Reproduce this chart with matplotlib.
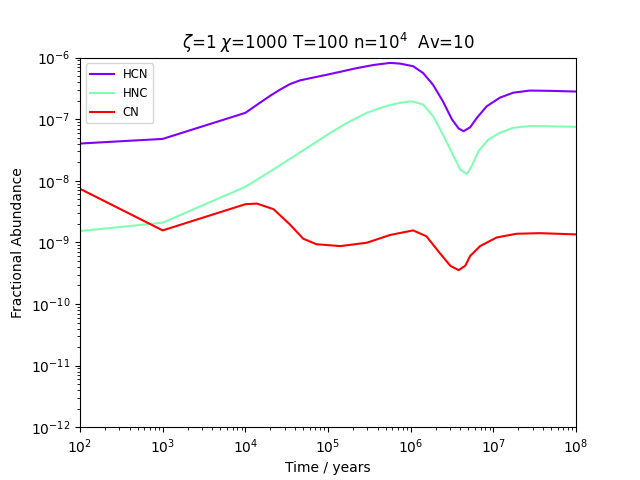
import numpy as np
import matplotlib
matplotlib.use('Agg')
from matplotlib import pyplot as plt

# log10(time / years) and log10(abundance)
hcn_logt = [2, 3, 4, 4.18, 4.3, 4.42, 4.54, 4.66, 4.8, 4.98, 5.15, 5.35, 5.55, 5.75,
            5.87, 6.03, 6.15, 6.27, 6.39, 6.5, 6.58, 6.64, 6.72, 6.8, 6.92, 7.08,
            7.24, 7.44, 7.7, 8.0]
hcn_logy = [-7.395, -7.32, -6.897, -6.73, -6.62, -6.52, -6.43, -6.37, -6.33, -6.28,
            -6.23, -6.17, -6.12, -6.086, -6.097, -6.14, -6.25, -6.44, -6.71, -7.005,
            -7.15, -7.195, -7.13, -6.98, -6.79, -6.65, -6.57, -6.535, -6.54, -6.551]

hnc_logt = [2, 3, 4, 4.3, 4.66, 4.88, 5.06, 5.23, 5.47, 5.63, 5.75, 5.87, 6.01, 6.15,
            6.27, 6.39, 6.52, 6.6, 6.68, 6.74, 6.82, 6.94, 7.08, 7.24, 7.44, 7.7, 8.0]
hnc_logy = [-8.816, -8.68, -8.097, -7.85, -7.54, -7.35, -7.195, -7.06, -6.897, -6.82,
            -6.77, -6.735, -6.71, -6.76, -6.95, -7.25, -7.60, -7.82, -7.89, -7.76,
            -7.52, -7.33, -7.22, -7.14, -7.11, -7.115, -7.124]

cn_logt = [2, 3, 4, 4.14, 4.34, 4.54, 4.7, 4.86, 5.15, 5.47, 5.75, 6.03, 6.19, 6.35,
           6.48, 6.58, 6.66, 6.72, 6.84, 7.04, 7.28, 7.56, 8.0]
cn_logy = [-8.13, -8.805, -8.38, -8.37, -8.46, -8.71, -8.94, -9.03, -9.06, -9.005,
           -8.88, -8.805, -8.90, -9.17, -9.38, -9.45, -9.38, -9.22, -9.06, -8.92,
           -8.86, -8.85, -8.87]

species = ['HCN', 'HNC', 'CN']
logts = [hcn_logt, hnc_logt, cn_logt]
logys = [hcn_logy, hnc_logy, cn_logy]

colors = plt.cm.rainbow(np.linspace(0, 1, len(species)))

fig, ax = plt.subplots(figsize=(6.4, 4.8), dpi=100)
for name, lt, ly, c in zip(species, logts, logys, colors):
    ax.plot(10**np.array(lt), 10**np.array(ly), color=c, label=name)

ax.set_xscale('log')
ax.set_yscale('log')
ax.set_xlim(1e2, 1e8)
ax.set_ylim(1e-12, 1e-6)
ax.set_xlabel('Time / years')
ax.set_ylabel('Fractional Abundance')
ax.set_title(r'$\zeta$=1 $\chi$=1000 T=100 n=10$^4$  Av=10')
ax.legend(loc='upper left', fontsize='small')
plt.savefig('out.png')
